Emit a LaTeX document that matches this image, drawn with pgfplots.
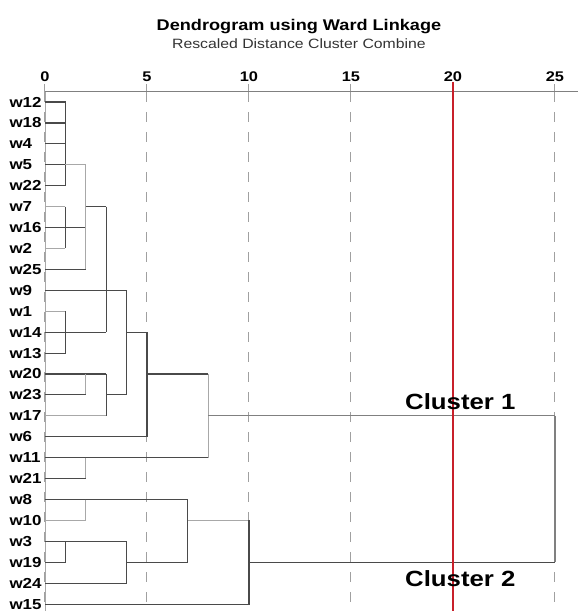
\documentclass[border=0pt]{standalone}
\usepackage{fontspec}
\setmainfont{Liberation Sans}[FakeStretch=1.17]
\usepackage{pgfplots}
\pgfplotsset{compat=1.18}
\definecolor{lnk}{HTML}{4A4A4A}
\definecolor{lnklt}{HTML}{A8A8A8}
\definecolor{gridc}{HTML}{A0A0A0}
\definecolor{cut}{HTML}{C8202A}
\begin{document}
\begin{tikzpicture}
\begin{axis}[
  name=ax,
  scale only axis,
  width=533pt, height=519pt,
  xmin=0, xmax=26.13,
  ymin=-25.33, ymax=-0.52,
  clip=false,
  axis x line*=top,
  axis y line*=left,
  x axis line style={draw=gray, line width=1pt, -},
  y axis line style={draw=lnklt, line width=0.8pt, -},
  xtick={0,5,10,15,20,25},
  tick align=outside,
  major tick length=8pt,
  xtick style={draw=gridc, line width=1pt},
  xmajorgrids,
  grid style={draw=gridc, line width=1pt, dash pattern=on 10pt off 10pt, dash phase=-9pt},
  xticklabel style={font=\bfseries\fontsize{14}{15}\selectfont, anchor=base, yshift=2pt},
  /pgf/number format/assume math mode=true,
  ytick={-25,-24,...,-1},
  yticklabels={w15,w24,w19,w3,w10,w8,w21,w11,w6,w17,w23,w20,w13,w14,w1,w9,w25,w2,w16,w7,w22,w5,w4,w18,w12},
  ytick style={draw=none},
  yticklabel style={font=\bfseries\fontsize{14.5}{15}\selectfont, anchor=west, xshift=-31pt},
  dk/.style={draw=lnk, line width=1.1pt},
  lt/.style={draw=lnklt, line width=1.1pt},
]
% cluster w12 w18 w4 w22 w5
\addplot[dk] coordinates {(0,-1)(1,-1)(1,-5)(0,-5)};
\addplot[dk] coordinates {(0,-2)(1,-2)};
\addplot[dk] coordinates {(0,-3)(1,-3)};
\addplot[dk] coordinates {(0,-4)(1,-4)};
\addplot[lt] coordinates {(1,-4)(2,-4)};
% w7 w16 w2
\addplot[lt] coordinates {(0,-6)(1,-6)};
\addplot[dk] coordinates {(1,-6)(1,-8)};
\addplot[lt] coordinates {(0,-8)(1,-8)};
\addplot[dk] coordinates {(0,-7)(2,-7)};
% join at 2 with w25
\addplot[lt] coordinates {(2,-4)(2,-9)};
\addplot[dk] coordinates {(0,-9)(2,-9)};
\addplot[dk] coordinates {(2,-6)(3,-6)};
% w1 w14 w13
\addplot[lt] coordinates {(0,-11)(1,-11)};
\addplot[dk] coordinates {(1,-11)(1,-13)(0,-13)};
\addplot[dk] coordinates {(0,-12)(3,-12)};
\addplot[dk] coordinates {(3,-6)(3,-12)};
\addplot[dk] coordinates {(0,-10)(4,-10)};
% w20 w23 w17
\addplot[dk] coordinates {(0,-14)(3,-14)};
\addplot[lt] coordinates {(2,-14)(2,-15)};
\addplot[dk] coordinates {(0,-15)(2,-15)};
\addplot[dk] coordinates {(3,-14)(3,-16)};
\addplot[lt] coordinates {(0,-16)(3,-16)};
\addplot[dk] coordinates {(3,-15)(4,-15)};
\addplot[dk] coordinates {(4,-10)(4,-15)};
\addplot[dk] coordinates {(4,-12)(5,-12)};
% w6
\addplot[dk] coordinates {(5,-12)(5,-17)(0,-17)};
\addplot[dk] coordinates {(5,-14)(8,-14)};
% w11 w21
\addplot[dk] coordinates {(0,-18)(8,-18)};
\addplot[lt] coordinates {(2,-18)(2,-19)};
\addplot[dk] coordinates {(0,-19)(2,-19)};
\addplot[lt] coordinates {(8,-14)(8,-18)};
\addplot[draw=gray, line width=1.1pt] coordinates {(8,-16)(25,-16)};
% w8 w10
\addplot[dk] coordinates {(0,-20)(7,-20)};
\addplot[lt] coordinates {(2,-20)(2,-21)(0,-21)};
% w3 w19 w24
\addplot[dk] coordinates {(0,-22)(4,-22)};
\addplot[dk] coordinates {(1,-22)(1,-23)(0,-23)};
\addplot[dk] coordinates {(4,-22)(4,-24)(0,-24)};
\addplot[dk] coordinates {(4,-23)(7,-23)};
\addplot[dk] coordinates {(7,-20)(7,-23)};
\addplot[lt] coordinates {(7,-21)(10,-21)};
% w15
\addplot[dk] coordinates {(10,-21)(10,-25)(0,-25)};
\addplot[dk] coordinates {(10,-23)(25,-23)};
\addplot[draw=gray, line width=1.1pt] coordinates {(25,-16)(25,-23)};
% cut line
\addplot[draw=cut, line width=1.6pt] coordinates {(20,-0.04)(20,-25.33)};
\node[anchor=base, font=\bfseries\fontsize{15.5}{16}\selectfont] at (axis cs:12.45,2.44) {Dendrogram using Ward Linkage};
\node[anchor=base, text=black!80, font=\fontsize{13.5}{14}\selectfont] at (axis cs:12.45,1.58) {Rescaled Distance Cluster Combine};
\node[anchor=base west, inner sep=0pt, font=\bfseries\fontsize{22}{24}\selectfont] at (axis cs:17.65,-15.72) {Cluster 1};
\node[anchor=base west, inner sep=0pt, font=\bfseries\fontsize{22}{24}\selectfont] at (axis cs:17.65,-24.14) {Cluster 2};
\end{axis}
\pgfresetboundingbox
\path ([xshift=-45pt,yshift=92pt]ax.north west) rectangle (ax.south east);
\end{tikzpicture}
\end{document}
